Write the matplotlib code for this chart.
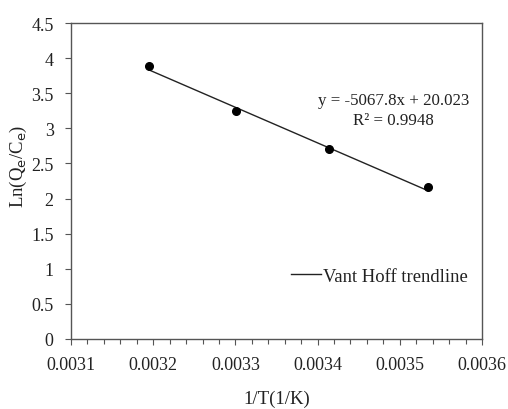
import numpy as np
import matplotlib.pyplot as plt
from matplotlib.ticker import MultipleLocator

inv_T = [0.003195, 0.003301, 0.003414, 0.003534]
ln_qc = [3.89, 3.24, 2.70, 2.16]
slope = -5067.8
intercept = 20.023
eq_text = 'y = -5067.8x + 20.023\nR² = 0.9948'

plt.rcParams['font.family'] = ['Liberation Serif', 'DejaVu Serif']

fig = plt.figure(figsize=(5.08, 4.10), dpi=100)
ax = fig.add_axes([71 / 508, 1 - 340 / 410, 411 / 508, 316 / 410])

xfit = np.array([inv_T[0], inv_T[-1]])
ax.plot(xfit, slope * xfit + intercept, color='#222222', lw=1.0, label='Vant Hoff trendline')
ax.plot(inv_T, ln_qc, 'o', color='black', ms=5.5, zorder=3)

ax.set_xlim(0.0031, 0.0036)
ax.set_ylim(0, 4.5)
ax.xaxis.set_major_locator(MultipleLocator(0.0001))
ax.xaxis.set_minor_locator(MultipleLocator(0.00002))
ax.yaxis.set_major_locator(MultipleLocator(0.5))
ax.set_xticklabels([f'{v:.4f}' for v in ax.get_xticks()])
ax.set_yticklabels([f'{v:g}' for v in ax.get_yticks()])
ax.tick_params(which='major', direction='out', length=4.5, width=0.8, color='#555555',
               labelsize=13, labelcolor='#222222', pad=8)
ax.tick_params(which='minor', direction='out', length=3.5, width=0.8, color='#555555')
for s in ax.spines.values():
    s.set_color('#555555')
    s.set_linewidth(1.0)

ax.set_xlabel('1/T(1/K)', fontsize=13.5, labelpad=12, color='#222222')
ax.set_ylabel('Ln(Q$_\\mathrm{e}$/C$_\\mathrm{e}$)', fontsize=13.5, color='#222222')
ax.yaxis.set_label_coords(-0.102, 0.55)

ax.text(0.003492, 3.26, eq_text, ha='center', va='center', fontsize=12.2, linespacing=1.3,
        color='#222222')
ax.legend(loc='center right', bbox_to_anchor=(1.007, 0.199), frameon=False, fontsize=13.4,
          handlelength=1.6, handletextpad=0.15, labelcolor='#222222')

fig.savefig('out.png', dpi=100)
